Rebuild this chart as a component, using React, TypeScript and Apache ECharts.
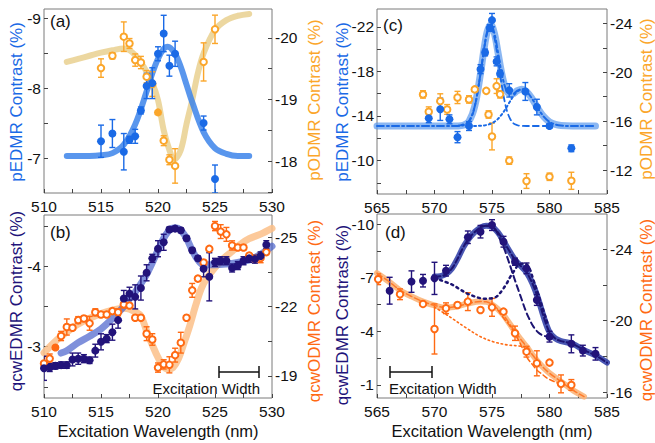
import { useEffect, useRef } from 'react';
import * as echarts from 'echarts';

const FONT = '"Liberation Sans", Arial, Helvetica, sans-serif';

// ---------- colours ----------
const C_PE = '#1a6ae6';
const C_PO = '#fba62a';
const C_QE = '#22137a';
const C_QO = '#ff6a13';

// ---------- panel (a) ----------
const aX_PE = [515, 516, 517, 517.5, 518, 518.5, 519, 519.5, 520, 520.5, 521, 521.5, 524, 525];
const aY_PE = [-7.24, -7.35, -7.09, -7.26, -7.31, -7.68, -8.03, -8.07, -8.49, -8.78, -8.32, -8.49, -7.5, -6.7];
const aE_PE = [0.23, 0.2, 0.26, 0.05, 0.1, 0.05, 0.18, 0.22, 0.1, 0.26, 0.15, 0.18, 0.1, 0.2];
const aX_PO = [515, 516, 517, 517.5, 518, 518.5, 519, 519.5, 520, 520.5, 521, 521.5, 524, 525];
const aY_PO = [-19.51, -19.71, -20.02, -19.91, -19.64, -19.6, -19.37, -19.25, -18.79, -18.33, -18.02, -17.92, -19.61, -20.14];
const aE_PO = [0.15, 0.05, 0.24, 0.08, 0.1, 0.1, 0.1, 0.2, 0, 0.08, 0.08, 0.28, 0.31, 0.23];
const aFilled_PO = [520];
const aFitX_PE = [512, 513, 514, 515, 516, 517, 518, 519, 519.5, 520, 520.5, 520.85, 521.5, 522, 522.5, 523, 524, 525, 526, 527, 528];
const aFitY_PE = [-7.03, -7.03, -7.03, -7.04, -7.07, -7.19, -7.48, -7.95, -8.21, -8.42, -8.56, -8.59, -8.49, -8.3, -8.05, -7.8, -7.37, -7.14, -7.06, -7.03, -7.03];
const aFitX_PO = [512, 513, 514, 515, 516, 517, 517.5, 518, 518.5, 519, 519.5, 520, 520.5, 521, 521.4, 522, 522.5, 523, 523.5, 524, 525, 526, 527, 528];
const aFitY_PO = [-19.61, -19.66, -19.71, -19.76, -19.8, -19.83, -19.8, -19.72, -19.6, -19.45, -19.27, -18.99, -18.5, -18.18, -18.02, -18.18, -18.6, -18.99, -19.43, -19.75, -20.13, -20.29, -20.36, -20.39];

// ---------- panel (b) ----------
const bX = [510, 510.5, 511, 511.5, 512, 512.5, 513, 513.5, 514, 514.5, 515, 515.5, 516, 516.5, 517, 517.5, 518, 518.5, 519, 519.5, 520, 520.5, 521, 521.5, 522, 522.5, 523, 523.5, 524, 524.5, 525, 525.5, 526, 526.5, 527, 527.5, 528, 528.5, 529, 529.5];
const bY_QE = [-2.73, -2.74, -2.76, -2.77, -2.77, -2.84, -2.85, -2.85, -2.83, -2.95, -3.06, -3.1, -3.18, -3.33, -3.6, -3.66, -3.62, -3.73, -3.92, -4.1, -4.22, -4.3, -4.46, -4.47, -4.45, -4.35, -4.2, -4.1, -3.97, -3.87, -4.05, -4.07, -4.07, -3.98, -4.01, -4.07, -4.1, -4.09, -4.13, -4.27];
const bE_QE = [0.15, 0.05, 0.04, 0.04, 0.04, 0.08, 0.07, 0.05, 0.04, 0.08, 0.1, 0.05, 0.1, 0.1, 0.1, 0.08, 0.15, 0.15, 0.1, 0.05, 0.1, 0.1, 0.03, 0.03, 0.03, 0.03, 0.03, 0.03, 0.1, 0.3, 0.05, 0.05, 0.05, 0.05, 0.05, 0.05, 0.05, 0.05, 0.05, 0.05];
const bY_QO = [-19.54, -19.75, -20.23, -20.73, -21.12, -21.09, -21.42, -21.49, -21.28, -21.76, -21.66, -21.66, -21.81, -21.76, -22.1, -22.05, -21.52, -21.52, -20.83, -20.58, -19.36, -19.5, -19.48, -19.9, -20.44, -21.52, -22.71, -23.22, -23.92, -24.51, -25.5, -25.26, -25.14, -24.66, -24.57, -24.57, -24.22, -24.08, -24.11, -24.37];
const bE_QO = [0.3, 0.2, 0, 0.2, 0.35, 0.1, 0.15, 0.1, 0.3, 0.15, 0.1, 0.1, 0.1, 0.15, 0.15, 0.1, 0.1, 0.1, 0.3, 0.25, 0.2, 0.2, 0.35, 0.3, 0.45, 0, 0.3, 0.1, 0.1, 0, 0.2, 0.3, 0.3, 0.2, 0.1, 0.1, 0.1, 0.1, 0.2, 0.1];
const bFilled_QO = [511];
const bFitX_QE = [511.5, 512, 513, 514, 515, 516, 517, 517.5, 518, 519, 520, 520.5, 521, 521.5, 522, 522.5, 523, 523.5, 524, 525, 526, 527, 528, 529, 530];
const bFitY_QE = [-2.92, -2.95, -3.05, -3.13, -3.22, -3.35, -3.5, -3.6, -3.68, -3.9, -4.2, -4.35, -4.45, -4.48, -4.45, -4.35, -4.2, -4.08, -4.02, -4.02, -4.03, -4.05, -4.08, -4.15, -4.25];
const bFitX_QO = [510, 511, 512, 513, 514, 515, 516, 517, 517.5, 518, 518.5, 519, 519.5, 520, 520.5, 520.9, 521.3, 521.8, 522.3, 522.8, 523.3, 523.8, 524.3, 525, 525.7, 526.5, 527.2, 528, 529, 530];
const bFitY_QO = [-20.0, -20.5, -20.9, -21.25, -21.5, -21.7, -21.85, -21.93, -21.9, -21.78, -21.6, -20.95, -20.35, -19.8, -19.4, -19.29, -19.35, -19.75, -20.45, -21.2, -22.05, -22.8, -23.25, -23.7, -24.07, -24.4, -24.7, -24.95, -25.15, -25.4];

// ---------- panel (c) ----------
const cX_PE = [569.5, 570.5, 571.3, 572, 573, 574, 574.4, 574.8, 575, 575.4, 575.7, 576.5, 577.9, 578.9, 580, 581.9];
const cY_PE = [-13.8, -14.6, -13.7, -12.1, -13.1, -18.2, -19.7, -21.9, -22.6, -18.9, -17.8, -16.3, -16.2, -14.8, -13.1, -11.1];
const cE_PE = [0.4, 1.0, 0.4, 0.5, 0.4, 0.4, 0.3, 0.3, 0.6, 0.4, 0.3, 0.6, 0.8, 0.7, 0.2, 0.3];
const cX_PO = [569, 569.5, 570.5, 571.1, 572, 573, 573.5, 574.5, 574.7, 575, 575.4, 575.7, 576.5, 578, 580, 581.9];
const cY_PO = [-18.19, -16.77, -17.64, -16.96, -17.94, -17.78, -18.6, -18.48, -16.55, -14.75, -18.87, -18.2, -12.77, -11.1, -11.45, -11.12];
const cE_PO = [0.3, 0.4, 0.6, 0.4, 0.5, 0.3, 0, 0, 0.3, 1.1, 0.6, 0.3, 0.3, 0.6, 0.3, 0.7];
const cFitX = [565, 567, 569, 571, 572, 572.5, 573, 573.5, 574, 574.3, 574.6, 574.9, 575.2, 575.5, 575.8, 576.1, 576.4, 576.8, 577.2, 577.6, 578, 578.5, 579, 579.5, 580, 580.5, 581, 582, 583, 584];
const cFitY = [-13.1, -13.1, -13.1, -13.1, -13.11, -13.17, -13.53, -14.87, -17.8, -19.95, -21.63, -22.19, -21.45, -19.83, -18.06, -16.73, -16.07, -15.99, -16.27, -16.41, -16.2, -15.53, -14.67, -13.94, -13.47, -13.24, -13.14, -13.1, -13.1, -13.1];
const cDashX = [572, 573, 573.5, 574, 574.3, 574.6, 574.9, 575.2, 575.5, 575.8, 576.1, 576.4, 576.8, 577.2, 577.6, 578, 579, 580];
const cDashY = [-13.11, -13.53, -14.86, -17.78, -19.9, -21.52, -21.98, -21.08, -19.21, -17.09, -15.32, -14.15, -13.4, -13.17, -13.11, -13.1, -13.1, -13.1];
const cDotX = [573, 573.5, 574, 574.3, 574.6, 574.9, 575.2, 575.5, 575.8, 576.1, 576.4, 576.8, 577.2, 577.6];
const cDotY = [-13.1, -13.11, -13.12, -13.15, -13.21, -13.31, -13.47, -13.72, -14.07, -14.51, -15.02, -15.69, -16.2, -16.4];

// ---------- panel (d) ----------
const dX_QE = [566.1, 568, 569, 570, 571, 572.9, 574, 575, 576, 577, 578, 578.9, 580, 581.9, 582.9, 584];
const dY_QE = [-6.27, -6.78, -6.83, -6.96, -7.39, -9.26, -9.57, -9.94, -9.01, -7.89, -7.52, -5.75, -3.7, -3.3, -2.92, -2.74];
const dE_QE = [0.75, 0.6, 0.35, 0.9, 0.3, 0.35, 0.35, 0.3, 0.3, 0.2, 0.3, 0.3, 0.3, 0.5, 0.3, 0.35];
const dX_QO = [565.1, 567, 569, 570, 571, 572, 572.9, 574, 575, 576, 577, 578, 578.9, 580, 581, 581.9];
const dY_QO = [-22.31, -21.47, -20.93, -19.53, -20.69, -20.87, -21.06, -20.59, -20.74, -20.5, -19.29, -18.26, -17.61, -17.65, -16.46, -16.4];
const dE_QO = [0.3, 0.3, 0, 1.4, 0.3, 0, 0.5, 0, 0.5, 0, 0.4, 0.3, 0.7, 0, 0.5, 0.3];
const dFitX_QE = [570, 570.5, 571, 571.5, 572, 572.5, 573, 573.5, 574, 574.5, 575, 575.5, 576, 576.5, 577, 577.5, 578, 578.5, 579, 579.5, 580, 580.5, 581, 582, 583, 584, 585];
const dFitY_QE = [-7.06, -7.08, -7.2, -7.5, -8.05, -8.7, -9.2, -9.55, -9.8, -9.9, -9.85, -9.55, -9.05, -8.5, -8.0, -7.65, -7.3, -6.7, -5.85, -4.8, -3.95, -3.6, -3.45, -3.3, -2.95, -2.65, -2.25];
const dDashX_QE = [574.5, 575, 575.4, 575.8, 576.1, 576.4, 576.7, 577, 577.3, 577.6, 577.9, 578.2, 578.6, 579, 579.5, 580];
const dDashY_QE = [-9.9, -9.85, -9.57, -9.0, -8.55, -8.0, -7.43, -6.85, -6.3, -5.75, -5.2, -4.75, -4.26, -3.95, -3.75, -3.7];
const dDotX_QE = [570, 570.5, 571, 571.6, 572.2, 572.8, 573.4, 574, 574.5, 575, 575.4, 575.9, 576.3, 576.6, 577, 577.3, 577.8, 578.2, 578.6, 579, 579.4, 579.8];
const dDotY_QE = [-7.0, -6.87, -6.75, -6.59, -6.35, -6.13, -5.97, -5.85, -5.82, -5.85, -5.94, -6.31, -6.7, -7.06, -7.45, -7.71, -7.8, -7.6, -6.87, -6.1, -5.3, -4.5];
const dFitX_QO = [565, 566, 567, 568, 569, 570, 571, 572, 573, 574, 574.5, 575, 575.5, 576, 576.5, 577, 577.5, 578, 578.5, 579, 579.5, 580, 581, 582, 583];
const dFitY_QO = [-22.65, -22.2, -21.7, -21.35, -21.06, -20.85, -20.72, -20.8, -20.97, -21.06, -21.05, -20.9, -20.65, -20.3, -19.85, -19.38, -18.95, -18.54, -18.1, -17.7, -17.35, -17.06, -16.59, -16.12, -15.75];
const dDashX_QO = [575.5, 576, 576.6, 577.3, 578, 578.5, 578.9, 579.4, 579.8, 580.3, 580.7];
const dDashY_QO = [-20.6, -20.15, -19.66, -18.92, -17.98, -17.55, -17.24, -16.98, -16.78, -16.62, -16.5];
const dDotX_QO = [570, 571.3, 572.8, 574, 575.1, 576.3, 577, 577.7, 578.2];
const dDotY_QO = [-20.75, -20.22, -19.57, -19.1, -18.82, -18.64, -18.6, -18.54, -18.45];

// ---------- axis ticks / labels ----------
const xTicksA = [510, 512.5, 515, 517.5, 520, 522.5, 525, 527.5, 530];
const xLabelsA = [510, 515, 520, 525, 530];
const xTicksC = [565, 567.5, 570, 572.5, 575, 577.5, 580, 582.5, 585];
const xLabelsC = [565, 570, 575, 580, 585];
const yTicksA_L = [-9, -8.5, -8, -7.5, -7];
const yLabelsA_L = [-9, -8, -7];
const yTicksA_R = [-20, -19.5, -19, -18.5, -18, -17.5];
const yLabelsA_R = [-20, -19, -18];
const yTicksB_L = [-4.5, -4, -3.5, -3, -2.5];
const yLabelsB_L = [-4, -3];
const yTicksB_R = [-25, -23.5, -22, -20.5, -19];
const yLabelsB_R = [-25, -22, -19];
const yTicksC_L = [-22, -20, -18, -16, -14, -12, -10, -8];
const yLabelsC_L = [-22, -18, -14, -10];
const yTicksC_R = [-24, -22, -20, -18, -16, -14, -12];
const yLabelsC_R = [-24, -20, -16, -12];
const yTicksD_L = [-10, -8.5, -7, -5.5, -4, -2.5, -1];
const yLabelsD_L = [-10, -7, -4, -1];
const yTicksD_R = [-24, -22, -20, -18, -16];
const yLabelsD_R = [-24, -20, -16];

const zip2 = (xs: number[], ys: number[]) => xs.map((x, i) => [x, ys[i]]);
const zip3 = (xs: number[], ys: number[], es: number[]) => xs.map((x, i) => [x, ys[i], es[i]]);

function errorBars(xi: number, yi: number, xs: number[], ys: number[], es: number[], color: string) {
  return {
    type: 'custom',
    xAxisIndex: xi,
    yAxisIndex: yi,
    data: zip3(xs, ys, es),
    z: 3,
    silent: true,
    clip: true,
    encode: { x: 0, y: 1 },
    renderItem: (_p: any, api: any) => {
      const x = api.value(0);
      const y = api.value(1);
      const e = api.value(2);
      if (!e) return { type: 'group', children: [] };
      const a = api.coord([x, y - e]);
      const b = api.coord([x, y + e]);
      const w = 3;
      const st = { stroke: color, lineWidth: 1.4 };
      return {
        type: 'group',
        children: [
          { type: 'line', shape: { x1: a[0], y1: a[1], x2: b[0], y2: b[1] }, style: st },
          { type: 'line', shape: { x1: a[0] - w, y1: a[1], x2: a[0] + w, y2: a[1] }, style: st },
          { type: 'line', shape: { x1: b[0] - w, y1: b[1], x2: b[0] + w, y2: b[1] }, style: st },
        ],
      };
    },
  };
}

function markers(xi: number, yi: number, xs: number[], ys: number[], color: string, open: boolean, filled: number[] = []) {
  return {
    type: 'scatter',
    xAxisIndex: xi,
    yAxisIndex: yi,
    z: 4,
    symbol: 'circle',
    symbolSize: open ? 6.5 : 8,
    itemStyle: open ? { color: '#ffffff', borderColor: color, borderWidth: 2, opacity: 1 } : { color, opacity: 1 },
    data: xs.map((x, i) =>
      open && filled.includes(x)
        ? { value: [x, ys[i]], symbolSize: 8, itemStyle: { color, borderWidth: 0 } }
        : { value: [x, ys[i]] }
    ),
  };
}

function fit(xi: number, yi: number, xs: number[], ys: number[], color: string, width: number, opacity: number, type: any = 'solid', z = 2) {
  return {
    type: 'line',
    xAxisIndex: xi,
    yAxisIndex: yi,
    z,
    showSymbol: false,
    symbol: 'none',
    smooth: 0.35,
    silent: true,
    data: zip2(xs, ys),
    lineStyle: { color, width, opacity, type, cap: 'round', join: 'round' },
  };
}

function xAx(gridIndex: number, min: number, max: number, ticks: number[], labels: number[], name: string) {
  return {
    type: 'value',
    gridIndex,
    min,
    max,
    position: 'bottom',
    axisLine: { show: false },
    axisTick: { show: true, inside: true, length: 4, customValues: ticks, lineStyle: { color: '#444', width: 1 } },
    axisLabel: { customValues: labels, fontSize: 15.5, color: '#111', margin: 5, fontFamily: FONT, formatter: (v: number) => String(v) },
    splitLine: { show: false },
    name,
    nameLocation: 'middle',
    nameGap: 24,
    nameTextStyle: { color: '#111', fontSize: 16.5, fontFamily: FONT },
  };
}

function yAx(gridIndex: number, position: string, min: number, max: number, ticks: number[], labels: number[]) {
  return {
    type: 'value',
    gridIndex,
    position,
    min,
    max,
    inverse: true,
    axisLine: { show: false },
    axisTick: { show: true, inside: true, length: 4, customValues: ticks, lineStyle: { color: '#444', width: 1 } },
    axisLabel: { customValues: labels, fontSize: 15.5, color: '#111', margin: 3, fontFamily: FONT, formatter: (v: number) => String(v) },
    splitLine: { show: false },
  };
}

function yName(text: string, x: number, y: number, color: string) {
  return {
    type: 'text',
    x,
    y,
    rotation: Math.PI / 2,
    silent: true,
    style: { text, fill: color, fontSize: 17, fontFamily: FONT, align: 'center', textAlign: 'center', verticalAlign: 'middle', textVerticalAlign: 'middle' },
  };
}

function widthBar(x1: number, x2: number, y: number, textX: number, align: string) {
  const st = { stroke: '#111', lineWidth: 1.5 };
  return [
    { type: 'line', shape: { x1, y1: y, x2, y2: y }, style: st, silent: true },
    { type: 'line', shape: { x1, y1: y - 6, x2: x1, y2: y + 6 }, style: st, silent: true },
    { type: 'line', shape: { x1: x2, y1: y - 6, x2, y2: y + 6 }, style: st, silent: true },
    {
      type: 'text',
      x: textX,
      y: y + 16,
      silent: true,
      style: { text: 'Excitation Width', fill: '#111', fontSize: 15, fontFamily: FONT, align, textAlign: align, verticalAlign: 'middle', textVerticalAlign: 'middle' },
    },
  ];
}

function panelLabel(text: string, left: number, top: number) {
  return { type: 'text', left, top, silent: true, style: { text, fill: '#111', fontSize: 17, fontFamily: FONT } };
}

export default function App() {
  const ref = useRef<HTMLDivElement>(null);
  useEffect(() => {
    if (!ref.current) return;
    const chart = echarts.init(ref.current, null, { renderer: 'svg' });
    const gridBase = { show: true, borderColor: '#7a7a7a', borderWidth: 1, backgroundColor: 'transparent', containLabel: false, outerBoundsMode: 'none' };
    const option: any = {
      animation: false,
      backgroundColor: '#ffffff',
      textStyle: { fontFamily: FONT },
      grid: [
        { ...gridBase, left: 44, top: 9, width: 228, height: 184 },
        { ...gridBase, left: 44, top: 215, width: 228, height: 183 },
        { ...gridBase, left: 377, top: 9, width: 230, height: 185 },
        { ...gridBase, left: 377, top: 214, width: 230, height: 184 },
      ],
      xAxis: [
        xAx(0, 510, 530, xTicksA, xLabelsA, ''),
        xAx(1, 510, 530, xTicksA, xLabelsA, 'Excitation Wavelength (nm)'),
        xAx(2, 565, 585, xTicksC, xLabelsC, ''),
        xAx(3, 565, 585, xTicksC, xLabelsC, 'Excitation Wavelength (nm)'),
      ],
      yAxis: [
        yAx(0, 'left', -9.13, -6.5, yTicksA_L, yLabelsA_L),
        yAx(0, 'right', -20.47, -17.48, yTicksA_R, yLabelsA_R),
        yAx(1, 'left', -4.64, -2.36, yTicksB_L, yLabelsB_L),
        yAx(1, 'right', -25.98, -18.04, yTicksB_R, yLabelsB_R),
        yAx(2, 'left', -23.6, -7.0, yTicksC_L, yLabelsC_L),
        yAx(2, 'right', -25.18, -10.04, yTicksC_R, yLabelsC_R),
        yAx(3, 'left', -10.56, -0.27, yTicksD_L, yLabelsD_L),
        yAx(3, 'right', -25.96, -15.67, yTicksD_R, yLabelsD_R),
      ],
      graphic: [
        panelLabel('(a)', 50, 13),
        panelLabel('(b)', 50, 224),
        panelLabel('(c)', 383, 17),
        panelLabel('(d)', 385, 224),
        yName('pEDMR Contrast (%)', 16, 102, C_PE),
        yName('pODMR Contrast (%)', 314, 100, C_PO),
        yName('pEDMR Contrast (%)', 342, 102, C_PE),
        yName('pODMR Contrast (%)', 646, 99, C_PO),
        yName('qcwEDMR Contrast (%)', 16, 301, C_QE),
        yName('qcwODMR Contrast (%)', 314, 311, C_QO),
        yName('qcwEDMR Contrast (%)', 342, 315, C_QE),
        yName('qcwODMR Contrast (%)', 646, 310, C_QO),
        ...widthBar(219, 259, 372, 260, 'right'),
        ...widthBar(390, 432, 372, 389, 'left'),
      ],
      series: [
        // (a)
        fit(0, 1, aFitX_PO, aFitY_PO, '#e9d08f', 6, 0.85),
        fit(0, 0, aFitX_PE, aFitY_PE, '#3c84ea', 6, 0.85),
        errorBars(0, 1, aX_PO, aY_PO, aE_PO, C_PO),
        errorBars(0, 0, aX_PE, aY_PE, aE_PE, C_PE),
        markers(0, 1, aX_PO, aY_PO, C_PO, true, aFilled_PO),
        markers(0, 0, aX_PE, aY_PE, C_PE, false),
        // (b)
        fit(1, 3, bFitX_QO, bFitY_QO, '#fbbf88', 7, 0.85),
        fit(1, 2, bFitX_QE, bFitY_QE, '#3b55c8', 7, 0.65),
        errorBars(1, 3, bX, bY_QO, bE_QO, C_QO),
        errorBars(1, 2, bX, bY_QE, bE_QE, C_QE),
        markers(1, 3, bX, bY_QO, C_QO, true, bFilled_QO),
        markers(1, 2, bX, bY_QE, C_QE, false),
        // (c)
        fit(2, 4, cFitX, cFitY, '#5a98ec', 7, 0.7),
        fit(2, 4, cFitX, cFitY, C_PE, 2, 1, [7, 3, 2, 3], 3),
        fit(2, 4, cDashX, cDashY, C_PE, 1.8, 1, [6, 4], 3),
        fit(2, 4, cDotX, cDotY, C_PE, 2, 1, [2, 3], 3),
        errorBars(2, 5, cX_PO, cY_PO, cE_PO, C_PO),
        errorBars(2, 4, cX_PE, cY_PE, cE_PE, C_PE),
        markers(2, 5, cX_PO, cY_PO, C_PO, true),
        markers(2, 4, cX_PE, cY_PE, C_PE, false),
        // (d)
        fit(3, 7, dFitX_QO, dFitY_QO, '#fbb57a', 6, 0.9),
        fit(3, 7, dFitX_QO, dFitY_QO, '#ff7a2a', 1.5, 1, [6, 3], 3),
        fit(3, 7, dDashX_QO, dDashY_QO, C_QO, 1.5, 1, [5, 3], 3),
        fit(3, 7, dDotX_QO, dDotY_QO, C_QO, 1.6, 1, [1.5, 3], 3),
        fit(3, 6, dFitX_QE, dFitY_QE, '#2a3aa6', 6, 0.85),
        fit(3, 6, dFitX_QE, dFitY_QE, '#1c1472', 2, 1, [6, 3], 3),
        fit(3, 6, dDashX_QE, dDashY_QE, '#1c1472', 2, 1, [6, 4], 3),
        fit(3, 6, dDotX_QE, dDotY_QE, '#1c1472', 2.5, 1, [2, 4], 3),
        errorBars(3, 7, dX_QO, dY_QO, dE_QO, C_QO),
        errorBars(3, 6, dX_QE, dY_QE, dE_QE, C_QE),
        markers(3, 7, dX_QO, dY_QO, C_QO, true),
        markers(3, 6, dX_QE, dY_QE, C_QE, false),
      ],
    };
    chart.setOption(option);
    return () => chart.dispose();
  }, []);
  return <div ref={ref} style={{ position: 'fixed', left: 0, top: 0, width: 655, height: 443 }} />;
}
